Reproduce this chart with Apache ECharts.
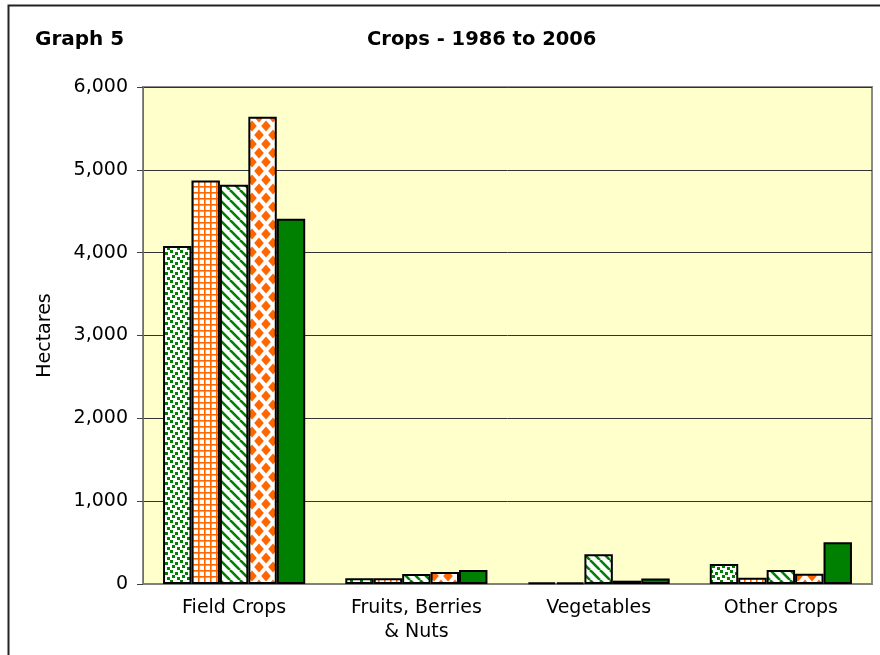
<!DOCTYPE html>
<html>
<head>
<meta charset="utf-8">
<script src="https://cdn.jsdelivr.net/npm/echarts@6/dist/echarts.min.js"></script>
<style>
html,body{margin:0;padding:0;background:#fff;}
#chart{width:880px;height:655px;}
</style>
</head>
<body>
<div id="chart"></div>
<script>
// ---- data ----
var categories = ['Field Crops', 'Fruits, Berries\n& Nuts', 'Vegetables', 'Other Crops'];
var seriesNames = ['1986', '1991', '1996', '2001', '2006'];
var s1986 = [4080, 70, 20, 240];
var s1991 = [4870, 70, 20, 75];
var s1996 = [4820, 120, 360, 170];
var s2001 = [5640, 145, 40, 125];
var s2006 = [4410, 170, 65, 505];
var yTicks = [0, 1000, 2000, 3000, 4000, 5000, 6000];

// ---- patterns ----
var GREEN = '#008000', ORANGE = '#FF6600';
var FONT = 'DejaVu Sans, Liberation Sans, Arial';
function tile(w, h, draw) {
  var c = document.createElement('canvas');
  c.width = w; c.height = h;
  var ctx = c.getContext('2d');
  ctx.fillStyle = '#fff';
  ctx.fillRect(0, 0, w, h);
  draw(ctx);
  return c;
}
var dots = tile(10, 10, function (ctx) {
  ctx.fillStyle = GREEN;
  [[0,0],[5,2],[2,5],[7,7]].forEach(function (p) { ctx.fillRect(p[0], p[1], 3, 3); });
});
var grid = tile(6, 6, function (ctx) {
  ctx.fillStyle = ORANGE;
  ctx.fillRect(0, 0, 1.6, 6);
  ctx.fillRect(0, 0, 6, 1.6);
});
var stripes = tile(10, 10, function (ctx) {
  ctx.strokeStyle = GREEN;
  ctx.lineWidth = 2.6;
  [-10, 0, 10].forEach(function (x0) {
    ctx.beginPath(); ctx.moveTo(x0, 0); ctx.lineTo(x0 + 10, 10); ctx.stroke();
  });
});
var diamonds = tile(14, 18, function (ctx) {
  ctx.fillStyle = ORANGE;
  [[0,0],[14,0],[0,18],[14,18],[7,9]].forEach(function (p) {
    ctx.beginPath();
    ctx.moveTo(p[0], p[1] - 5.4);
    ctx.lineTo(p[0] + 4.8, p[1]);
    ctx.lineTo(p[0], p[1] + 5.4);
    ctx.lineTo(p[0] - 4.8, p[1]);
    ctx.closePath(); ctx.fill();
  });
});
var fills = [
  { image: dots, repeat: 'repeat' },
  { image: grid, repeat: 'repeat' },
  { image: stripes, repeat: 'repeat' },
  { image: diamonds, repeat: 'repeat' },
  GREEN
];
var values = [s1986, s1991, s1996, s2001, s2006];

var chart = echarts.init(document.getElementById('chart'), null, { renderer: 'canvas' });
var option = {
  animation: false,
  backgroundColor: '#fff',
  title: [
    { text: 'Graph 5', left: 30, top: 25,
      textStyle: { fontFamily: FONT, fontSize: 20, fontWeight: 'bold', color: '#000' } },
    { text: 'Crops - 1986 to 2006', left: 362, top: 25,
      textStyle: { fontFamily: FONT, fontSize: 19.5, fontWeight: 'bold', color: '#000' } }
  ],
  graphic: [
    { type: 'rect', silent: true, z: -1,
      shape: { x: 8.5, y: 5.5, width: 1000, height: 1000 },
      style: { fill: null, stroke: '#222', lineWidth: 2 } }
  ],
  grid: {
    left: 143, right: 8, top: 87, bottom: 71,
    show: true, backgroundColor: '#FFFFCC', borderColor: '#8a8a8a', borderWidth: 2
  },
  xAxis: {
    type: 'category',
    data: categories,
    axisLine: { show: true, lineStyle: { color: '#808080', width: 2 } },
    axisTick: { show: false },
    axisLabel: { fontFamily: FONT, fontSize: 19, color: '#000', margin: 12, lineHeight: 24 },
    splitLine: { show: false }
  },
  yAxis: {
    type: 'value',
    min: 0, max: 6000, interval: 1000,
    name: 'Hectares',
    nameLocation: 'middle',
    nameGap: 88,
    nameRotate: 90,
    nameTextStyle: { fontFamily: FONT, fontSize: 19, color: '#000' },
    axisLine: { show: true, lineStyle: { color: '#707070', width: 1 } },
    axisTick: { show: true, inside: false, length: 6, lineStyle: { color: '#404040' } },
    axisLabel: {
      fontFamily: FONT, fontSize: 19, color: '#000', margin: 15,
      formatter: function (v) { return yTicks.indexOf(v) >= 0 ? v.toLocaleString('en-US') : ''; }
    },
    splitLine: { show: true, lineStyle: { color: '#333', width: 1 } }
  },
  series: seriesNames.map(function (name, i) {
    return {
      name: name,
      type: 'bar',
      data: values[i],
      barGap: '0%',
      barCategoryGap: '22%',
      itemStyle: { color: fills[i], borderColor: '#000', borderWidth: 2 }
    };
  })
};
chart.setOption(option);
</script>
</body>
</html>
